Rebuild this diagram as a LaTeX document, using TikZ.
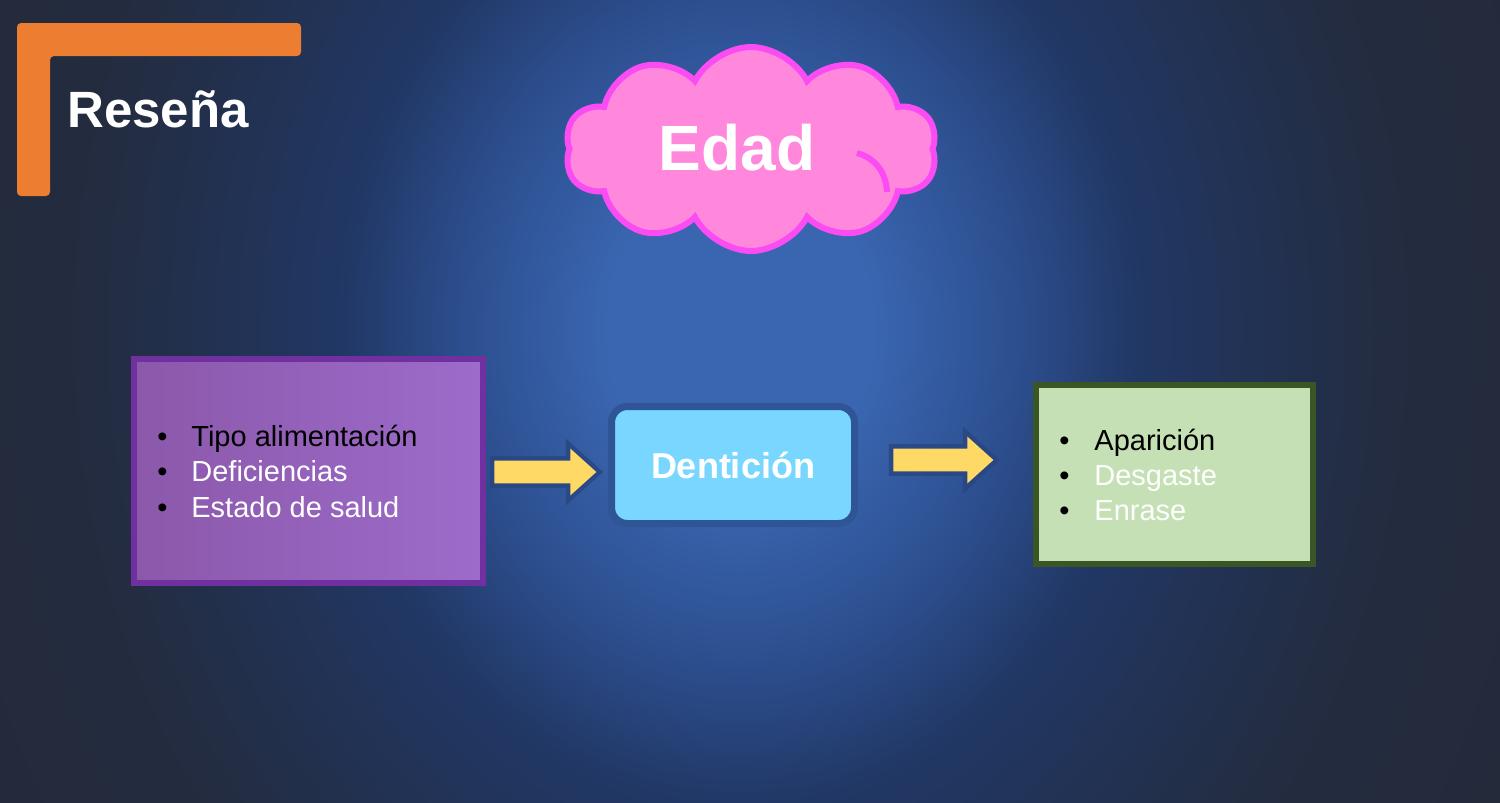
\documentclass[tikz,border=0pt]{standalone}
\usepackage{fontspec}
\setmainfont{Liberation Sans}
\usetikzlibrary{shapes.symbols,shapes.arrows}

\definecolor{bgcenter}{HTML}{3A66B1}
\definecolor{bgmid}{HTML}{2C4E8E}
\definecolor{bgdark}{HTML}{213764}
\definecolor{bggrey}{HTML}{232C40}
\definecolor{bgedge}{HTML}{232A3A}
\definecolor{barorange}{HTML}{ED7D31}
\definecolor{cloudpink}{HTML}{FF88DD}
\definecolor{cloudedge}{HTML}{FA4CF2}
\definecolor{boxpurple}{HTML}{7030A0}
\definecolor{purpleleft}{HTML}{8B58AA}
\definecolor{purpleright}{HTML}{9D6CCB}
\definecolor{teethblue}{HTML}{78D6FF}
\definecolor{teethedge}{HTML}{2F5597}
\definecolor{boxgreen}{HTML}{C5E0B4}
\definecolor{greenedge}{HTML}{3A5624}
\definecolor{arrowyellow}{HTML}{FFD966}
\definecolor{arrowglow}{HTML}{284680}

\pgfdeclareradialshading{slidebg}{\pgfpoint{0bp}{0bp}}{color(0bp)=(bgcenter); color(65bp)=(bgcenter); color(139bp)=(bgmid); color(199bp)=(bgdark); color(324bp)=(bggrey); color(423bp)=(bgedge)}

\tikzset{
  cloudbox/.style={cloud, cloud puffs=10, cloud puff arc=125, aspect=1.8, fill=cloudpink, draw=cloudedge, line width=3pt, minimum width=186pt, minimum height=102pt},
  listbox/.style={rectangle, inner sep=0pt, line width=3pt},
  item/.style={anchor=base west, inner sep=0pt, font=\fontsize{14.5pt}{17.75pt}\selectfont},
  yarrow/.style={single arrow, fill=arrowyellow, inner xsep=0pt, inner ysep=5.5pt, single arrow head extend=6pt, single arrow tip angle=84, preaction={draw=arrowglow, line width=4.5pt, draw opacity=0.8}}
}

\begin{document}
\begin{tikzpicture}[x=0.5pt, y=-0.5pt]

\useasboundingbox (0,0) rectangle (1500,803);
\begin{scope}
\clip (0,0) rectangle (1500,803);
\fill[bgedge] (0,0) rectangle (1500,803);
\begin{scope}[shift={(740,330)}, yscale=1.2]
\node[inner sep=0pt, transform shape] (glow) at (0,0) {\pgfuseshading{slidebg}};
\end{scope}
\end{scope}

% title bracket
\fill[barorange, rounded corners=2pt] (17,23) -- (301,23) -- (301,56) -- (50,56) -- (50,196) -- (17,196) -- cycle;
\node[anchor=base west, inner sep=0pt, text=white, font=\bfseries\fontsize{25.5pt}{30pt}\selectfont] (title) at (67,127) {Reseña};

% cloud
\node[cloudbox] (cloud) at (751,149) {};
\draw[cloudedge, line width=3pt] (857,153) .. controls (875,158) and (886,172) .. (887,192);
\node[inner sep=0pt, text=white, font=\bfseries\fontsize{32pt}{36pt}\selectfont] (age) at (737,148) {Edad};

% boxes
\node[listbox, draw=boxpurple, left color=purpleleft, right color=purpleright, minimum width=174.5pt, minimum height=112pt] (causes) at (308.5,471) {};
\node[listbox, draw=teethedge, line width=3.5pt, fill=teethblue, rounded corners=8pt, minimum width=121.5pt, minimum height=58.5pt, text=white, font=\bfseries\fontsize{18pt}{22pt}\selectfont] (teeth) at (733,465) {Dentición};
\node[listbox, draw=greenedge, fill=boxgreen, minimum width=138.5pt, minimum height=89.5pt] (signs) at (1174.5,474.5) {};

\foreach \t/\c [count=\i] in {Tipo alimentación/black, Deficiencias/white, Estado de salud/white}
  \node[item] (cause\i) at (157,446+35.5*\i-35.5) {\makebox[17pt][l]{\textbullet}\textcolor{\c}{\t}};
\foreach \t/\c [count=\i] in {Aparición/black, Desgaste/white, Enrase/white}
  \node[item] (sign\i) at (1059,450+35*\i-35) {\makebox[17.5pt][l]{\textbullet}\textcolor{\c}{\t}};

% arrows
\node[yarrow, minimum height=51pt] (inarrow) at (539,472) {};
\node[yarrow, minimum height=50pt] (outarrow) at (937,460) {};

\end{tikzpicture}
\end{document}
